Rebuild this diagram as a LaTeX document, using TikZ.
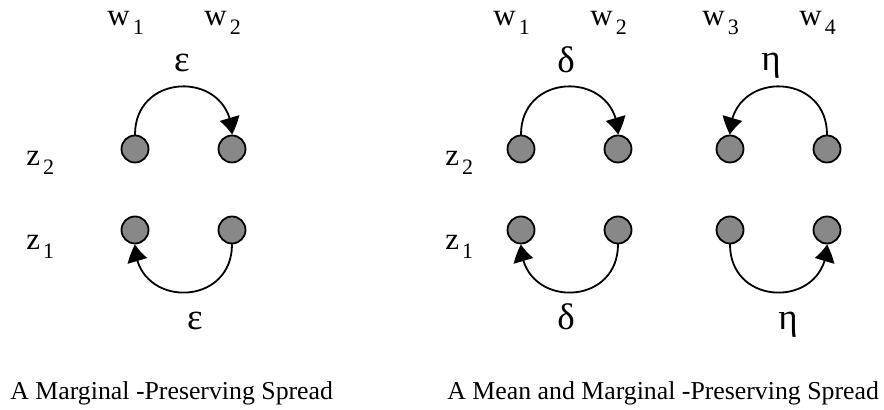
\documentclass[tikz,border=0pt]{standalone}
\usepackage{fontspec}
\setmainfont{Liberation Serif}
\usepackage{xcolor}
\usepackage{tikz}
\usetikzlibrary{arrows.meta,bending}
\definecolor{spInk}{HTML}{000000}
\definecolor{spDot}{HTML}{888888}
\newcommand{\spsub}[1]{\kern1.5pt\raisebox{-4.5pt}{\fontsize{11}{13}\selectfont#1}}
\tikzset{
  sp diagram/.style={text=spInk, line cap=round, line join=round},
  sp dot/.style={circle, draw=spInk, fill=spDot, line width=0.9pt,
    minimum size=13.5pt, inner sep=0pt},
  sp arrow/.style={-{Triangle[bend,length=8.5pt,width=10pt]}, draw=spInk,
    line width=0.9pt, looseness=1.7},
  sp label/.style={font=\fontsize{15.5}{18}\selectfont, inner sep=0pt,
    anchor=base west},
  sp greek/.style={font=\fontsize{18.5}{22}\selectfont, inner sep=0pt, anchor=base},
  sp caption/.style={font=\fontsize{12.9}{15}\selectfont, inner sep=0pt,
    anchor=base west}
}
\begin{document}
\begin{tikzpicture}[sp diagram, x=0.5pt, y=0.5pt]
\useasboundingbox (0,0) rectangle (884,410);
% left panel: marginal-preserving spread
\foreach \x/\n in {135/1,232/2}{
  \node[sp dot] (l2\n) at (\x,261) {};
  \node[sp dot] (l1\n) at (\x,180) {};
  \node[sp label] (lw\n) at (\x-28,384) {w\spsub{\n}};
}
\node[sp label] (lz2) at (26,244) {z\spsub{2}};
\node[sp label] (lz1) at (26,160) {z\spsub{1}};
\draw[sp arrow] (l21.north) to[out=90,in=90] (l22.north);
\draw[sp arrow] (l12.south) to[out=-90,in=-90] (l11.south);
\node[sp greek] (leps top) at (182,338) {ε};
\node[sp greek] (leps bot) at (195,80) {ε};
\node[sp caption] (lcap) at (10,10) {A Marginal -Preserving Spread};
% right panel: mean and marginal-preserving spread
\foreach \x/\n in {521/1,618/2,730/3,827/4}{
  \node[sp dot] (r2\n) at (\x,261) {};
  \node[sp dot] (r1\n) at (\x,180) {};
  \node[sp label] (rw\n) at (\x-28,384) {w\spsub{\n}};
}
\node[sp label] (rz2) at (445,244) {z\spsub{2}};
\node[sp label] (rz1) at (445,160) {z\spsub{1}};
\draw[sp arrow] (r21.north) to[out=90,in=90] (r22.north);
\draw[sp arrow] (r12.south) to[out=-90,in=-90] (r11.south);
\draw[sp arrow] (r24.north) to[out=90,in=90] (r23.north);
\draw[sp arrow] (r13.south) to[out=-90,in=-90] (r14.south);
\node[sp greek] (rdel top) at (566,337) {δ};
\node[sp greek] (rdel bot) at (566,80) {δ};
\node[sp greek] (reta top) at (771,339) {η};
\node[sp greek] (reta bot) at (788,80) {η};
\node[sp caption] (rcap) at (447,10) {A Mean and Marginal -Preserving Spread};
\end{tikzpicture}
\end{document}
